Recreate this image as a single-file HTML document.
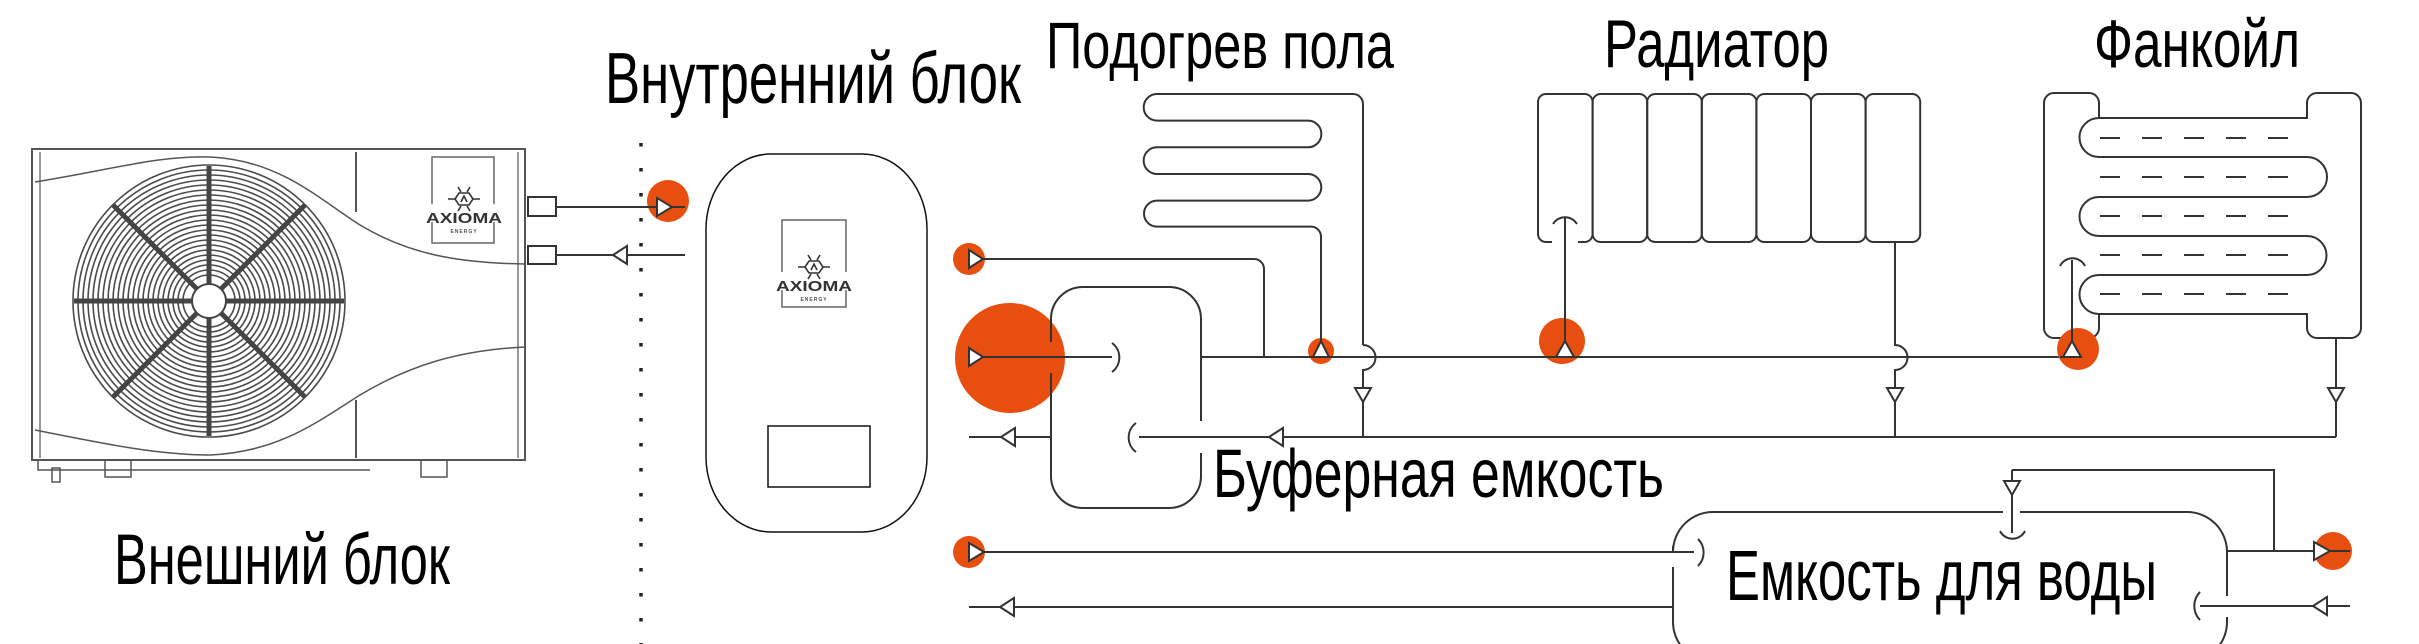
<!DOCTYPE html>
<html><head><meta charset="utf-8"><style>
html,body{margin:0;padding:0;background:#fff;}
svg{display:block;}
.t{font-family:"Liberation Sans Narrow","Liberation Sans",sans-serif;fill:#000;}
</style></head><body>
<svg width="2419" height="644" viewBox="0 0 2419 644" xmlns="http://www.w3.org/2000/svg">
<defs>
<g id="logo">
  <g fill="none" stroke="#333" stroke-width="1.6">
    <polygon points="-5,-25 5,-25 9,-19 5,-13 -5,-13 -9,-19"/>
    <path d="M-6,-31 l3,5 M6,-31 l-3,5 M-6,-7 l3,-5 M6,-7 l-3,-5 M-16,-19 h7 M16,-19 h-7"/>
    <path d="M-3,-16 l3,-6 l3,6"/>
  </g>
  <text x="0" y="5" text-anchor="middle" font-family="Liberation Sans,sans-serif" font-weight="bold" font-size="15" textLength="76" lengthAdjust="spacingAndGlyphs" fill="#333">AXIOMA</text>
  <text x="0" y="15" text-anchor="middle" font-family="Liberation Sans,sans-serif" font-weight="bold" font-size="5" fill="#555" letter-spacing="1">ENERGY</text>
</g>
</defs>

<!-- Outdoor unit -->
<g fill="none" stroke="#555" stroke-width="2">
  <rect x="32" y="149" width="493" height="311"/>
  <line x1="40" y1="152" x2="40" y2="458" stroke-width="1.2"/>
  <line x1="518" y1="152" x2="518" y2="458" stroke-width="1.2"/>
  <line x1="356" y1="152" x2="356" y2="212"/>
  <line x1="356" y1="400" x2="356" y2="458"/>
  <path d="M35,182 C110,170 160,155 210,157 C280,160 320,200 360,225 C410,255 460,263 525,264" stroke-width="1.5"/>
  <path d="M35,430 C110,445 160,455 210,455 C280,452 320,420 360,395 C410,365 460,350 525,347" stroke-width="1.5"/>
  <path d="M38,460 V470 H370" stroke-width="1.5"/>
  <rect x="105" y="460" width="26" height="17" stroke-width="1.5"/>
  <rect x="421" y="460" width="26" height="17" stroke-width="1.5"/>
  <rect x="52" y="468" width="8" height="14" stroke-width="1.5"/>
</g>
<g fill="none" stroke="#4a4a4a" stroke-width="1.6">
  <circle cx="209" cy="301" r="136"/>
  <circle cx="209" cy="301" r="131"/>
  <circle cx="209" cy="301" r="126"/>
  <circle cx="209" cy="301" r="121"/>
  <circle cx="209" cy="301" r="116"/>
  <circle cx="209" cy="301" r="111"/>
  <circle cx="209" cy="301" r="106"/>
  <circle cx="209" cy="301" r="101"/>
  <circle cx="209" cy="301" r="96"/>
  <circle cx="209" cy="301" r="91"/>
  <circle cx="209" cy="301" r="86"/>
  <circle cx="209" cy="301" r="81"/>
  <circle cx="209" cy="301" r="76"/>
  <circle cx="209" cy="301" r="71"/>
  <circle cx="209" cy="301" r="66"/>
  <circle cx="209" cy="301" r="61"/>
  <circle cx="209" cy="301" r="56"/>
  <circle cx="209" cy="301" r="51"/>
  <circle cx="209" cy="301" r="46"/>
  <circle cx="209" cy="301" r="41"/>
  <circle cx="209" cy="301" r="36"/>
  <circle cx="209" cy="301" r="31"/>
  <circle cx="209" cy="301" r="26"/>
</g>
<g stroke="#444" stroke-width="5">
  <line x1="209" y1="166" x2="209" y2="436"/>
  <line x1="74" y1="301" x2="344" y2="301"/>
  <line x1="113" y1="205" x2="305" y2="397"/>
  <line x1="305" y1="205" x2="113" y2="397"/>
</g>
<circle cx="209" cy="301" r="17" fill="#fff" stroke="#444" stroke-width="2"/>
<rect x="432" y="157" width="62" height="86" fill="none" stroke="#666" stroke-width="1.5"/>
<rect x="424" y="204" width="80" height="18" fill="#fff"/>
<use href="#logo" transform="translate(464,218)"/>
<g fill="#fff" stroke="#333" stroke-width="2">
  <rect x="528" y="197" width="28" height="19"/>
  <rect x="528" y="246" width="28" height="18"/>
</g>

<!-- dotted line -->
<line x1="641" y1="143" x2="641" y2="644" stroke="#222" stroke-width="3.5" stroke-dasharray="3.5,21.5"/>

<!-- Indoor unit -->
<rect x="706" y="154" width="221" height="378" rx="65" ry="75" fill="none" stroke="#111" stroke-width="1.5"/>
<rect x="782" y="220" width="64" height="87" fill="none" stroke="#666" stroke-width="1.5"/>
<rect x="774" y="272" width="80" height="18" fill="#fff"/>
<use href="#logo" transform="translate(814,286)"/>
<rect x="768" y="426" width="102" height="61" fill="none" stroke="#111" stroke-width="1.5"/>

<!-- orange circles -->
<g fill="#e84e0f">
  <circle cx="668" cy="201" r="21"/>
  <circle cx="969" cy="259" r="16"/>
  <circle cx="1010" cy="358" r="55"/>
  <circle cx="969" cy="552" r="16"/>
  <circle cx="1321" cy="351" r="13"/>
  <circle cx="1562" cy="341" r="23"/>
  <circle cx="2333" cy="551" r="19"/>
</g>

<g fill="none" stroke="#333" stroke-width="2">
  <!-- outdoor lines -->
  <line x1="556" y1="207" x2="685" y2="207"/>
  <line x1="556" y1="255" x2="685" y2="255"/>
  <!-- buffer tank -->
  <path d="M1051,342 V319 A32,32 0 0 1 1083,287 H1169 A32,32 0 0 1 1201,319 V421 M1201,453 V476 A32,32 0 0 1 1169,508 H1083 A32,32 0 0 1 1051,476 V373"/>
  <path d="M983,259 H1254 A10,10 0 0 1 1264,269 V357"/>
  <line x1="983" y1="357" x2="1112" y2="357"/>
  <path d="M1112,343 A18,18 0 0 1 1112,372"/>
  <line x1="969" y1="437" x2="1051" y2="437"/>
  <line x1="1139" y1="437" x2="2336" y2="437"/>
  <path d="M1136,423 A18,18 0 0 0 1136,452"/>
  <line x1="1201" y1="357" x2="2072" y2="357"/>
  <!-- floor heating -->
  <path d="M1363,345 V104 A10,10 0 0 0 1353,94 H1157 A13.3,13.3 0 0 0 1157,120.6 H1308 A13.3,13.3 0 0 1 1308,147.3 H1157 A13.3,13.3 0 0 0 1157,174 H1308 A13.3,13.3 0 0 1 1308,200.6 H1157 A13,13 0 0 0 1157,226.6 H1311 A10,10 0 0 1 1321,236.6 V345"/>
  <path d="M1363,345 A12.5,12.5 0 0 1 1363,370 V437"/>
  <!-- radiator -->
  <rect x="1538" y="94" width="54.6" height="148" rx="8"/>
  <rect x="1592.6" y="94" width="54.6" height="148" rx="8"/>
  <rect x="1647.2" y="94" width="54.6" height="148" rx="8"/>
  <rect x="1701.8" y="94" width="54.6" height="148" rx="8"/>
  <rect x="1756.4" y="94" width="54.6" height="148" rx="8"/>
  <rect x="1811" y="94" width="54.6" height="148" rx="8"/>
  <rect x="1865.6" y="94" width="54.6" height="148" rx="8"/>
  <path d="M1895,242 V345 A12.5,12.5 0 0 1 1895,370 V437"/>
  <!-- fancoil -->
  <rect x="2044" y="93" width="55" height="245" rx="10"/>
  <rect x="2307" y="93" width="54" height="245" rx="10"/>
</g>
<rect x="2096" y="119" width="6" height="194" fill="#fff"/>
<rect x="2304" y="119" width="6" height="194" fill="#fff"/>
<g fill="none" stroke="#333" stroke-width="2">
  <path d="M2307,118 H2099 A19.5,19.5 0 0 0 2099,157 H2307 A20,20 0 0 1 2307,197 H2099 A19.5,19.5 0 0 0 2099,236 H2307 A19.5,19.5 0 0 1 2307,275 H2099 A19.5,19.5 0 0 0 2099,314 H2307"/>
  <line x1="2336" y1="338" x2="2336" y2="437"/>
  <!-- water tank -->
  <path d="M1673,546 V552 M1673,567 V622 A40,40 0 0 0 1713,662 H2187 A40,40 0 0 0 2227,622 V617 M2227,596 V552 A40,40 0 0 0 2187,512 H2020 M2003,512 H1713 A40,40 0 0 0 1673,552 V546"/>
  <line x1="983" y1="552" x2="1694" y2="552"/>
  <line x1="969" y1="607" x2="1673" y2="607"/>
  <path d="M1698,539 A19,19 0 0 1 1698,566"/>
  <path d="M2012,470 V533"/>
  <path d="M2012,470 H2274 V551"/>
  <line x1="2227" y1="551" x2="2350" y2="551"/>
  <line x1="2200" y1="606" x2="2350" y2="606"/>
  <path d="M2200,592 A20,20 0 0 0 2200,620"/>
</g>
<circle cx="2078" cy="349" r="21" fill="#e84e0f"/>
<rect x="1552" y="237" width="26" height="10" fill="#fff"/>
<g fill="none" stroke="#333" stroke-width="2">
  <path d="M1553,224 A14,14 0 0 1 1577,224"/>
  <line x1="1565" y1="218" x2="1565" y2="357"/>
  <path d="M2060,266 A14,14 0 0 1 2085,266"/>
  <line x1="2072" y1="260" x2="2072" y2="357"/>
  <line x1="2060" y1="357" x2="2072" y2="357"/>
  <path d="M2000,531 A14,14 0 0 0 2025,531"/>
</g>
<!-- fancoil dashes -->
<g stroke="#333" stroke-width="2" stroke-dasharray="20,22">
  <line x1="2100" y1="138" x2="2290" y2="138"/>
  <line x1="2100" y1="177" x2="2290" y2="177"/>
  <line x1="2100" y1="216" x2="2290" y2="216"/>
  <line x1="2100" y1="255" x2="2290" y2="255"/>
  <line x1="2100" y1="294" x2="2290" y2="294"/>
</g>

<!-- arrows -->
<g fill="#fff" stroke="#333" stroke-width="2" stroke-linejoin="miter">
  <polygon points="657,198 672,207 657,216"/>
  <polygon points="627,246 613,255 627,264"/>
  <polygon points="969,250 983,259 969,268"/>
  <polygon points="969,348 983,357 969,366"/>
  <polygon points="969,543 984,552 969,561"/>
  <polygon points="1015,428 1001,437 1015,446"/>
  <polygon points="1014,598 1000,607 1014,616"/>
  <polygon points="1283,428 1269,437 1283,446"/>
  <polygon points="1313,357 1321,341 1329,357"/>
  <polygon points="1556,357 1565,341 1574,357"/>
  <polygon points="2063,357 2072,341 2081,357"/>
  <polygon points="1355,388 1371,388 1363,402"/>
  <polygon points="1887,388 1903,388 1895,402"/>
  <polygon points="2328,388 2344,388 2336,402"/>
  <polygon points="2004,481 2020,481 2012,495"/>
  <polygon points="2314,542 2330,551 2314,560"/>
  <polygon points="2327,597 2313,606 2327,615"/>
</g>

<!-- labels -->
<text class="t" x="605" y="103" font-size="72" textLength="416" lengthAdjust="spacingAndGlyphs">Внутренний блок</text>
<text class="t" x="1046" y="68" font-size="66" textLength="348" lengthAdjust="spacingAndGlyphs">Подогрев пола</text>
<text class="t" x="1604" y="67" font-size="68" textLength="225" lengthAdjust="spacingAndGlyphs">Радиатор</text>
<text class="t" x="2094" y="67" font-size="68" textLength="206" lengthAdjust="spacingAndGlyphs">Фанкойл</text>
<text class="t" x="114" y="584" font-size="71" textLength="336" lengthAdjust="spacingAndGlyphs">Внешний блок</text>
<text class="t" x="1213" y="497" font-size="69" textLength="451" lengthAdjust="spacingAndGlyphs">Буферная емкость</text>
<text class="t" x="1726" y="600" font-size="71" textLength="431" lengthAdjust="spacingAndGlyphs">Емкость для воды</text>
</svg>
</body></html>
